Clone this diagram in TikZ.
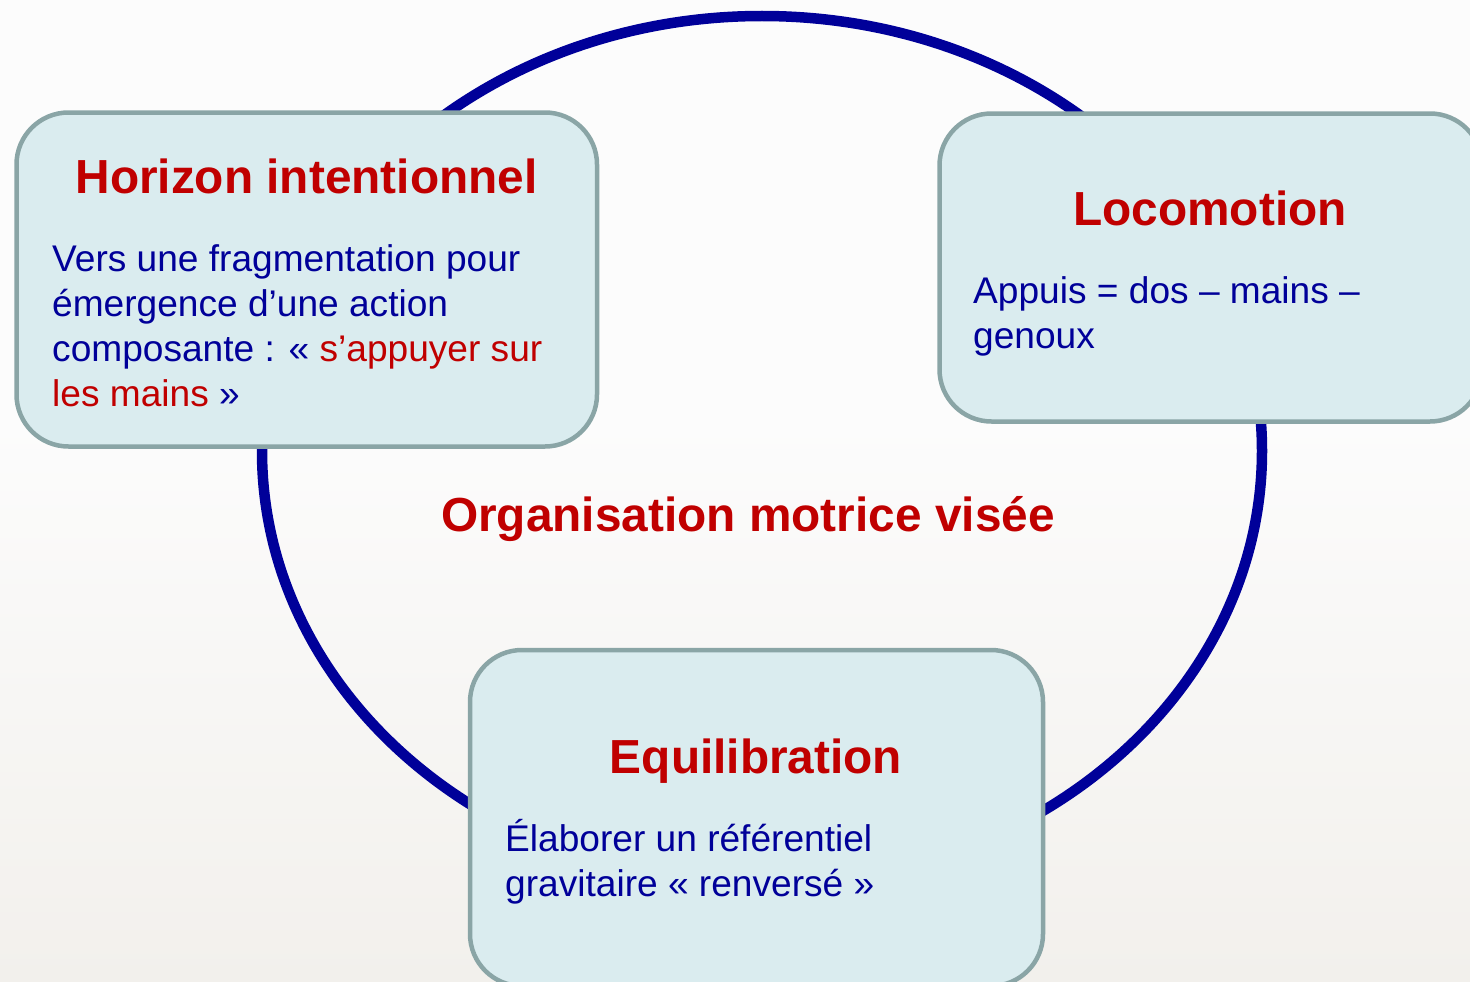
\documentclass[tikz,border=0pt]{standalone}
\usepackage{fontspec}
\setmainfont{Liberation Sans}
\definecolor{ringblue}{HTML}{000099}
\definecolor{txtblue}{HTML}{000099}
\definecolor{ttlred}{HTML}{C00000}
\definecolor{boxfill}{HTML}{DAECEF}
\definecolor{boxline}{HTML}{8AA5A6}
\definecolor{bgtop}{HTML}{FCFCFC}
\definecolor{bgbot}{HTML}{F2F0EC}
\tikzset{
  box/.style={draw=boxline, fill=boxfill, line width=4.5pt, rounded corners=52pt, inner sep=0pt},
  ring/.style={draw=ringblue, line width=10.5pt},
  ttl/.style={text=ttlred, font=\fontsize{47.8}{57}\selectfont\bfseries, anchor=base, inner sep=0pt},
  body/.style={text=txtblue, font=\fontsize{37.1}{45}\selectfont, anchor=base west, inner sep=0pt}
}
\begin{document}
\begin{tikzpicture}[x=1pt,y=-1pt]
\useasboundingbox (0,0) rectangle (1470,982);
\clip (0,0) rectangle (1470,982);
% background
\fill[bgtop] (0,0) rectangle (1470,982);
\shade[top color=bgtop, bottom color=bgbot] (0,420) rectangle (1470,982);
% ring
\draw[ring] (762,451) ellipse [x radius=500, y radius=435];
% boxes
\node[box, minimum width=580.5pt, minimum height=334pt] (b1) at (306.75,279.5) {};
\node[box, minimum width=542.5pt, minimum height=308pt] (b2) at (1210.75,267.5) {};
\node[box, minimum width=573pt, minimum height=336pt] (b3) at (756.5,818) {};
% center label
\node[ttl] (center) at (748,531) {Organisation motrice visée};
% box 1
\node[ttl] (t1) at (306.5,193.5) {Horizon intentionnel};
\node[body] (l11) at (52,271.5) {Vers une fragmentation pour};
\node[body] (l12) at (52,316.5) {émergence d’une action};
\node[body] (l13) at (52,361.5) {composante : « \textcolor{ttlred}{s’appuyer sur}};
\node[body, text=ttlred] (l14) at (52,406) {les mains \textcolor{txtblue}{»}};
% box 2
\node[ttl] (t2) at (1210,225) {Locomotion};
\node[body] (l21) at (973,303.5) {Appuis = dos – mains –};
\node[body] (l22) at (973,348.5) {genoux};
% box 3
\node[ttl] (t3) at (756,773.5) {Equilibration};
\node[body] (l31) at (505,851.5) {Élaborer un référentiel};
\node[body] (l32) at (505,896.5) {gravitaire « renversé »};
\end{tikzpicture}
\end{document}
